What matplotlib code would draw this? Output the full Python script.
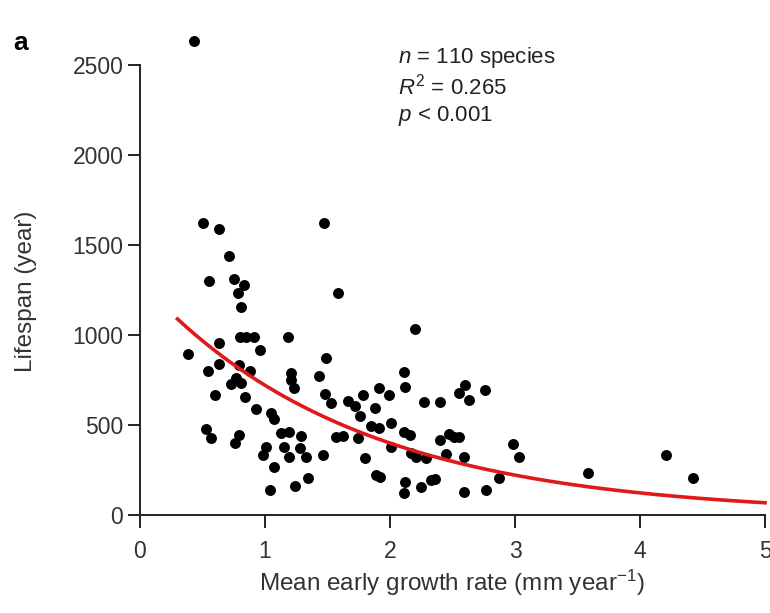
import numpy as np
import matplotlib
matplotlib.use("Agg")
import matplotlib.pyplot as plt

plt.rcParams['font.family'] = ['Liberation Sans', 'DejaVu Sans']
plt.rcParams['mathtext.fontset'] = 'custom'
plt.rcParams['mathtext.it'] = 'Liberation Sans:italic'
plt.rcParams['mathtext.rm'] = 'Liberation Sans'

# growth rate (mm/year) and lifespan (year)
growth = [0.43, 0.50, 0.63, 1.47, 0.71, 0.55, 0.75, 0.83, 0.78, 1.58,
          0.81, 0.80, 0.85, 0.91, 1.18, 0.63, 0.96, 0.38, 1.49, 0.63,
          0.54, 0.79, 0.88, 1.21, 1.21, 1.23, 1.43, 0.77, 0.73, 0.81,
          0.60, 0.84, 1.48, 1.53, 0.93, 1.05, 1.07, 0.53, 0.57, 0.79,
          0.76, 1.13, 1.19, 1.29, 1.57, 1.62, 1.01, 0.98, 1.15, 1.28,
          1.19, 1.33, 1.46, 1.07, 1.34, 1.24, 1.04, 2.11, 2.12, 1.91,
          1.99, 1.78, 1.66, 1.72, 1.88, 1.76, 2.27, 2.40, 2.55, 2.60,
          2.63, 2.76, 1.85, 1.91, 2.01, 1.74, 2.11, 2.16, 2.01, 2.17,
          2.21, 2.29, 2.45, 2.40, 2.47, 2.51, 2.55, 2.59, 1.80, 1.89,
          1.92, 2.12, 2.11, 2.25, 2.33, 2.36, 2.59, 2.77, 2.87, 2.98,
          3.03, 3.58, 4.21, 4.42, 2.20]
lifespan = [2635, 1624, 1587, 1624, 1439, 1300, 1311, 1278, 1235, 1231,
            1157, 987, 987, 987, 991, 954, 917, 894, 875, 839,
            800, 833, 800, 787, 750, 704, 772, 759, 728, 731,
            667, 657, 670, 620, 587, 565, 531, 476, 430, 444,
            398, 457, 463, 439, 431, 439, 380, 333, 380, 370,
            320, 320, 333, 269, 207, 161, 139, 793, 713, 704,
            667, 667, 633, 606, 593, 550, 630, 630, 680, 722,
            639, 694, 494, 481, 513, 430, 463, 444, 376, 342,
            324, 315, 339, 417, 450, 435, 431, 320, 315, 222,
            213, 185, 120, 157, 194, 198, 130, 139, 208, 394,
            320, 231, 333, 204, 1035]

# exponential fit y = a * exp(-b x), parameters
fit_a = 1300
fit_b = 0.59
fit_range = (0.3, 5.0)

fig = plt.figure(figsize=(7.7, 6.13), dpi=100)
ax = fig.add_axes([140/770, 98/613, 625/770, 450/613])

ax.scatter(growth, lifespan, s=62, color='black', linewidths=0, zorder=3, clip_on=False)

xs = np.linspace(fit_range[0], fit_range[1], 200)
ax.plot(xs, fit_a * np.exp(-fit_b * xs), color='#e01a1a', lw=2.6, zorder=4, clip_on=False)

ax.set_xlim(0, 5)
ax.set_ylim(0, 2500)
ax.set_xticks([0, 1, 2, 3, 4, 5])
ax.set_yticks([0, 500, 1000, 1500, 2000, 2500])
for s in ['top', 'right']:
    ax.spines[s].set_visible(False)
for s in ['left', 'bottom']:
    ax.spines[s].set_linewidth(1.4)
    ax.spines[s].set_color('#222222')
ax.tick_params(direction='out', length=9, width=1.4, color='#222222',
               labelsize=16.5, labelcolor='#333333')
ax.tick_params(axis='x', pad=9)
ax.tick_params(axis='y', pad=3)

fig.text(452/770, 1 - 583/613, 'Mean early growth rate (mm year$^{-1}$)',
         fontsize=17.5, color='#333333', ha='center', va='center')
fig.text(26/770, 1 - 291/613, 'Lifespan (year)', rotation=90,
         fontsize=17.5, color='#333333', ha='center', va='center')

fig.text(398/770, 1 - 57/613, '$n$ = 110 species', fontsize=16, va='center', color='#222222')
fig.text(398/770, 1 - 87/613, '$R^2$ = 0.265', fontsize=16, va='center', color='#222222')
fig.text(398/770, 1 - 116/613, '$p$ < 0.001', fontsize=16, va='center', color='#222222')
fig.text(13/770, 1 - 43/613, 'a', fontsize=19, fontweight='bold', va='center')

plt.savefig('out.png', dpi=100)
